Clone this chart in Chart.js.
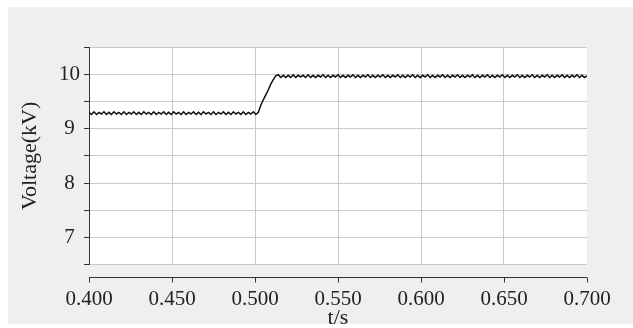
<!DOCTYPE html>
<html>
<head>
<meta charset="utf-8">
<script src="https://cdn.jsdelivr.net/npm/chart.js@4.4.1/dist/chart.umd.min.js"></script>
<style>
  html, body { margin: 0; padding: 0; background: #fff; }
  #wrap { width: 633px; height: 328px; }
</style>
</head>
<body>
<div id="wrap"><canvas id="chart" width="633" height="328"></canvas></div>
<script>
// time (s), read every 1.5 ms off the trace
const times = [
  0.4000,0.4015,0.4030,0.4045,0.4060,0.4075,0.4090,0.4105,0.4120,0.4135,
  0.4150,0.4165,0.4180,0.4195,0.4210,0.4225,0.4240,0.4255,0.4270,0.4285,
  0.4300,0.4315,0.4330,0.4345,0.4360,0.4375,0.4390,0.4405,0.4420,0.4435,
  0.4450,0.4465,0.4480,0.4495,0.4510,0.4525,0.4540,0.4555,0.4570,0.4585,
  0.4600,0.4615,0.4630,0.4645,0.4660,0.4675,0.4690,0.4705,0.4720,0.4735,
  0.4750,0.4765,0.4780,0.4795,0.4810,0.4825,0.4840,0.4855,0.4870,0.4885,
  0.4900,0.4915,0.4930,0.4945,0.4960,0.4975,0.4990,0.5005,0.5020,0.5035,
  0.5050,0.5065,0.5080,0.5095,0.5110,0.5125,0.5140,0.5155,0.5170,0.5185,
  0.5200,0.5215,0.5230,0.5245,0.5260,0.5275,0.5290,0.5305,0.5320,0.5335,
  0.5350,0.5365,0.5380,0.5395,0.5410,0.5425,0.5440,0.5455,0.5470,0.5485,
  0.5500,0.5515,0.5530,0.5545,0.5560,0.5575,0.5590,0.5605,0.5620,0.5635,
  0.5650,0.5665,0.5680,0.5695,0.5710,0.5725,0.5740,0.5755,0.5770,0.5785,
  0.5800,0.5815,0.5830,0.5845,0.5860,0.5875,0.5890,0.5905,0.5920,0.5935,
  0.5950,0.5965,0.5980,0.5995,0.6010,0.6025,0.6040,0.6055,0.6070,0.6085,
  0.6100,0.6115,0.6130,0.6145,0.6160,0.6175,0.6190,0.6205,0.6220,0.6235,
  0.6250,0.6265,0.6280,0.6295,0.6310,0.6325,0.6340,0.6355,0.6370,0.6385,
  0.6400,0.6415,0.6430,0.6445,0.6460,0.6475,0.6490,0.6505,0.6520,0.6535,
  0.6550,0.6565,0.6580,0.6595,0.6610,0.6625,0.6640,0.6655,0.6670,0.6685,
  0.6700,0.6715,0.6730,0.6745,0.6760,0.6775,0.6790,0.6805,0.6820,0.6835,
  0.6850,0.6865,0.6880,0.6895,0.6910,0.6925,0.6940,0.6955,0.6970,0.6985,
  0.7000
];

// voltage (kV)
const voltage = [
  9.30,9.26,9.31,9.26,9.30,9.27,9.31,9.26,9.30,9.26,
  9.31,9.27,9.30,9.26,9.31,9.26,9.30,9.27,9.31,9.26,
  9.30,9.26,9.31,9.27,9.30,9.26,9.31,9.26,9.30,9.27,
  9.31,9.26,9.30,9.26,9.31,9.27,9.30,9.26,9.31,9.26,
  9.30,9.27,9.31,9.26,9.30,9.26,9.31,9.27,9.30,9.26,
  9.31,9.26,9.30,9.27,9.31,9.26,9.30,9.26,9.31,9.27,
  9.30,9.26,9.31,9.26,9.30,9.27,9.31,9.26,9.30,9.43,
  9.53,9.62,9.71,9.82,9.90,9.97,9.99,9.94,9.98,9.94,
  9.98,9.94,9.99,9.94,9.98,9.95,9.98,9.94,9.99,9.94,
  9.98,9.94,9.98,9.95,9.99,9.94,9.98,9.94,9.98,9.95,
  9.99,9.94,9.98,9.94,9.98,9.95,9.99,9.94,9.98,9.94,
  9.98,9.95,9.99,9.94,9.98,9.94,9.98,9.95,9.99,9.94,
  9.98,9.94,9.98,9.95,9.99,9.94,9.98,9.94,9.98,9.95,
  9.99,9.94,9.98,9.94,9.98,9.95,9.99,9.94,9.98,9.94,
  9.98,9.95,9.99,9.94,9.98,9.94,9.98,9.95,9.99,9.94,
  9.98,9.94,9.98,9.95,9.99,9.94,9.98,9.94,9.98,9.95,
  9.99,9.94,9.98,9.94,9.98,9.95,9.99,9.94,9.98,9.94,
  9.98,9.95,9.99,9.94,9.98,9.94,9.98,9.95,9.99,9.94,
  9.98,9.94,9.98,9.95,9.99,9.94,9.98,9.94,9.98,9.95,
  9.99,9.94,9.98,9.94,9.98,9.95,9.99,9.94,9.98,9.94,
  9.97
];

const xTitle = 't/s';
const yTitle = 'Voltage(kV)';

const serif = '"Liberation Serif", "Times New Roman", serif';
const axisColor = '#333';
const gridColor = '#c9c9c9';

// grey frame + white plot area
const backdrop = {
  id: 'backdrop',
  beforeDraw(chart) {
    const { ctx, chartArea: a } = chart;
    ctx.save();
    ctx.fillStyle = '#fff';
    ctx.fillRect(0, 0, chart.width, chart.height);
    ctx.fillStyle = '#efefef';
    ctx.fillRect(8, 7, chart.width - 8, 317);
    ctx.fillStyle = '#fff';
    ctx.fillRect(a.left, a.top, a.right - a.left, a.bottom - a.top);
    ctx.restore();
  }
};

// the x axis line sits a bit below the plot area
const xAxisLine = {
  id: 'xAxisLine',
  afterDraw(chart) {
    const { ctx, chartArea: a } = chart;
    const xs = chart.scales.x;
    const y = Math.round(a.bottom + 12) + 0.5;
    ctx.save();
    ctx.strokeStyle = axisColor;
    ctx.lineWidth = 1;
    ctx.beginPath();
    ctx.moveTo(xs.getPixelForValue(0.4), y);
    ctx.lineTo(xs.getPixelForValue(0.7), y);
    xs.ticks.forEach(t => {
      const px = Math.round(xs.getPixelForValue(t.value)) + 0.5;
      ctx.moveTo(px, y);
      ctx.lineTo(px, y + 5);
    });
    ctx.stroke();
    ctx.restore();
  }
};

new Chart(document.getElementById('chart'), {
  type: 'line',
  data: {
    datasets: [{
      data: times.map((t, i) => ({ x: t, y: voltage[i] })),
      borderColor: '#111',
      borderWidth: 1.5,
      pointRadius: 0,
      tension: 0,
      fill: false
    }]
  },
  options: {
    responsive: false,
    animation: false,
    layout: { padding: { left: 8, right: 46, top: 47, bottom: 0 } },
    plugins: { legend: { display: false }, tooltip: { enabled: false } },
    scales: {
      x: {
        type: 'linear',
        min: 0.4,
        max: 0.7,
        grid: {
          color: c => (c.tick && Math.abs(c.tick.value - 0.7) < 1e-6) ? 'rgba(0,0,0,0)' : gridColor,
          drawTicks: false
        },
        border: { display: false },
        ticks: {
          stepSize: 0.05,
          autoSkip: false,
          maxRotation: 0,
          padding: 22,
          color: '#222',
          font: { family: serif, size: 21 },
          callback: v => Number(v).toFixed(3)
        },
        title: {
          display: true,
          text: xTitle,
          color: '#222',
          font: { family: serif, size: 22, lineHeight: 1 },
          padding: { top: -27, bottom: -1 }
        }
      },
      y: {
        min: 6.5,
        max: 10.5,
        grid: { color: gridColor, tickColor: axisColor, tickLength: 5 },
        border: { display: true, color: axisColor, width: 1 },
        ticks: {
          stepSize: 0.5,
          autoSkip: false,
          padding: 4,
          crossAlign: 'center',
          color: '#222',
          font: { family: serif, size: 21 },
          callback: v => Number.isInteger(v) ? String(v) : ''
        },
        title: {
          display: true,
          text: yTitle,
          color: '#222',
          font: { family: serif, size: 22, lineHeight: 1 },
          padding: { top: 11, bottom: 14 }
        }
      }
    }
  },
  plugins: [backdrop, xAxisLine]
});
</script>
</body>
</html>
